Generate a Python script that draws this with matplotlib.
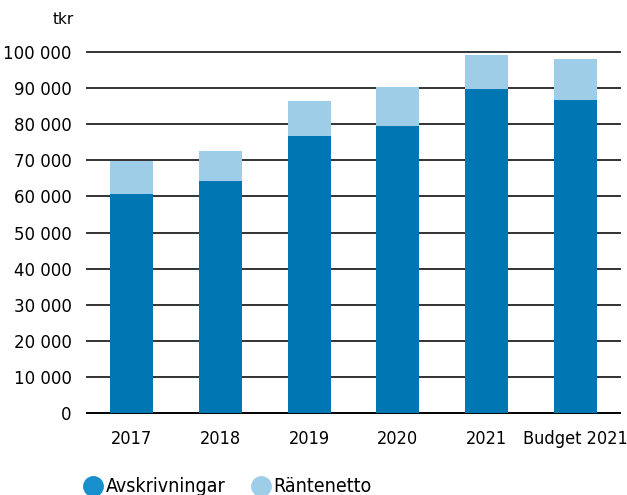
import matplotlib.pyplot as plt
from matplotlib.lines import Line2D

plt.rcParams['font.family'] = ['DejaVu Sans']

years = ['2017', '2018', '2019', '2020', '2021', 'Budget 2021']
avskrivningar = [60600, 64300, 76700, 79500, 89800, 86700]
rantenetto = [9300, 8300, 9700, 10800, 9400, 11400]
yticks = [0, 10000, 20000, 30000, 40000, 50000, 60000, 70000, 80000, 90000, 100000]

dark = '#0077b3'
light = '#9ecee7'

fig = plt.figure(figsize=(6.27, 4.95), dpi=100)
ax = fig.add_axes([0.1388, 0.1657, 0.85, 0.7292])

x = range(len(years))
ax.bar(x, avskrivningar, width=0.485, color=dark, zorder=3)
ax.bar(x, rantenetto, width=0.485, bottom=avskrivningar, color=light, zorder=3)

ax.set_xlim(-0.5, 5.5)
ax.set_ylim(0, 100000)
ax.set_yticks(yticks)
ax.set_yticklabels([f'{v:,}'.replace(',', ' ') for v in yticks], fontsize=12)
ax.set_xticks(list(x))
ax.set_xticklabels(years, fontsize=13, fontstretch='condensed')
ax.tick_params(axis='both', length=0)
ax.tick_params(axis='y', pad=11)
ax.tick_params(axis='x', pad=12)

for v in yticks:
    ax.axhline(v, color='#333333' if v else '#000000', lw=1.4, zorder=1, clip_on=False)
for s in ax.spines.values():
    s.set_visible(False)

fig.text(74 / 627, 1 - 19 / 495, 'tkr', ha='right', va='center', fontsize=11)

handles = [
    Line2D([], [], marker='o', ls='', markersize=14, color='#178fcc'),
    Line2D([], [], marker='o', ls='', markersize=14, color=light),
]
fig.legend(handles, ['Avskrivningar', 'Räntenetto'], loc='center left',
           bbox_to_anchor=(66 / 627, 1 - 487 / 495), ncol=2, frameon=False,
           prop={'size': 14, 'stretch': 'condensed'}, handletextpad=0.15,
           columnspacing=1.3, handlelength=1.0)

fig.savefig('out.png', dpi=100)
